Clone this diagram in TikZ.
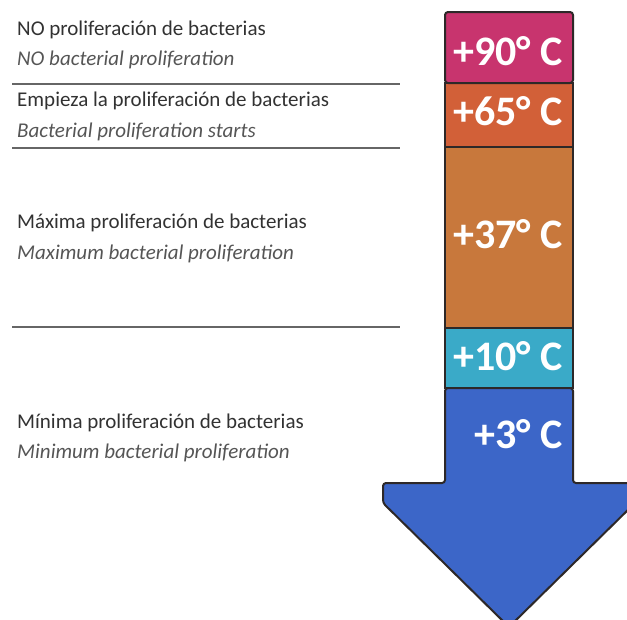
\documentclass[tikz,border=0pt]{standalone}
\usepackage{fontspec}
\setmainfont{Carlito}
\definecolor{cNinety}{RGB}{200,52,110}
\definecolor{cSixty}{RGB}{210,96,56}
\definecolor{cThirty}{RGB}{200,120,60}
\definecolor{cTen}{RGB}{58,170,200}
\definecolor{cThree}{RGB}{60,102,200}
\definecolor{cEdge}{RGB}{45,40,40}
\definecolor{cSp}{RGB}{50,50,50}
\definecolor{cEn}{RGB}{85,85,85}
\begin{document}
\begin{tikzpicture}[x=1pt,y=-1pt,
  sptext/.style={anchor=base west,inner sep=0pt,text=cSp,font=\fontsize{21}{23}\selectfont},
  entext/.style={anchor=base west,inner sep=0pt,text=cEn,font=\fontsize{21}{23}\selectfont\itshape},
  temp/.style={anchor=base east,inner sep=0pt,text=white,font=\fontsize{42}{44}\selectfont\bfseries},
  sepline/.style={draw=cEn!90,line width=1.2pt},
  boxedge/.style={draw=cEdge,line width=2pt}]
\useasboundingbox (0,0) rectangle (627,619);
\clip (0,0) rectangle (627,619);
% arrow
\path[fill=cThree,boxedge,rounded corners=3pt]
  (445,388) -- (445,483) -- (383,483) -- (383,503) -- (509,627) -- (635,503) -- (635,483) -- (573,483) -- (573,388) -- cycle;
\path[fill=cTen,boxedge] (445,328) rectangle (573,388);
\path[fill=cThirty,boxedge] (445,147) rectangle (573,328);
\path[fill=cSixty,boxedge] (445,83) rectangle (573,147);
\path[fill=cNinety,boxedge,rounded corners=3pt] (445,83) -- (445,12) -- (573,12) -- (573,83) -- cycle;
% temperatures
\node[temp] (t90) at (563,65) {+90° C};
\node[temp] (t65) at (563,125) {+65° C};
\node[temp] (t37) at (563,248) {+37° C};
\node[temp] (t10) at (563,370) {+10° C};
\node[temp] (t3) at (563,448) {+3° C};
% separator lines
\coordinate (l1a) at (12,84); \coordinate (l1b) at (400,84);
\coordinate (l2a) at (12,148); \coordinate (l2b) at (400,148);
\coordinate (l3a) at (12,327); \coordinate (l3b) at (400,327);
\draw[sepline] (l1a) -- (l1b);
\draw[sepline] (l2a) -- (l2b);
\draw[sepline] (l3a) -- (l3b);
% texts
\node[sptext] (s1) at (17,35) {NO proliferación de bacterias};
\node[entext] (e1) at (17,65) {NO bacterial proliferation};
\node[sptext] (s2) at (17,106) {Empieza la proliferación de bacterias};
\node[entext] (e2) at (17,137) {Bacterial proliferation starts};
\node[sptext] (s3) at (17,228) {Máxima proliferación de bacterias};
\node[entext] (e3) at (17,259) {Maximum bacterial proliferation};
\node[sptext] (s4) at (17,428) {Mínima proliferación de bacterias};
\node[entext] (e4) at (17,458) {Minimum bacterial proliferation};
\end{tikzpicture}
\end{document}
